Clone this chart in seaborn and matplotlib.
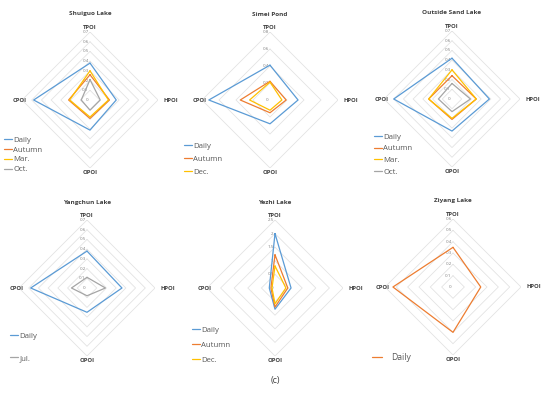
"""
Radar charts of the four pollution indices for six lakes.
"""

import numpy as np
import pandas as pd
import matplotlib
matplotlib.use('Agg')
import matplotlib.pyplot as plt
import seaborn as sns

sns.set_theme(style='white')
plt.rcParams['font.family'] = ['Open Sans', 'DejaVu Sans']

indices = ['TPOI', 'HPOI', 'OPOI', 'CPOI']

shuiguo = {'Daily': [0.38, 0.27, 0.31, 0.58],
           'Autumn': [0.26, 0.20, 0.19, 0.22],
           'Mar.': [0.30, 0.19, 0.175, 0.21],
           'Oct.': [0.21, 0.105, 0.105, 0.09]}
simei = {'Daily': [0.41, 0.33, 0.28, 0.72],
         'Autumn': [0.22, 0.19, 0.15, 0.35],
         'Dec.': [0.21, 0.14, 0.12, 0.24]}
outside_sand = {'Daily': [0.42, 0.385, 0.33, 0.60],
                'Autumn': [0.24, 0.25, 0.21, 0.24],
                'Mar.': [0.30, 0.25, 0.20, 0.24],
                'Oct.': [0.16, 0.19, 0.13, 0.14]}
yangchun = {'Daily': [0.38, 0.36, 0.25, 0.58],
            'Jul.': [0.11, 0.19, 0.08, 0.16]}
yezhi = {'Daily': [2.0, 0.59, 0.78, 0.21],
         'Autumn': [1.22, 0.47, 0.70, 0.15],
         'Dec.': [0.81, 0.40, 0.58, 0.11]}
ziyang = {'Daily': [0.35, 0.245, 0.40, 0.53]}

titles = ['Shuiguo Lake', 'Simei Pond', 'Outside Sand Lake',
          'Yangchun Lake', 'Yezhi Lake', 'Ziyang Lake']
datasets = [shuiguo, simei, outside_sand, yangchun, yezhi, ziyang]
ring_ticks = [np.arange(0, 0.71, 0.1), np.arange(0, 0.81, 0.2),
              np.arange(0, 0.71, 0.1), np.arange(0, 0.71, 0.1),
              np.arange(0, 2.51, 0.5), np.arange(0, 0.61, 0.1)]

colors = {'Daily': '#5B9BD5', 'Autumn': '#ED7D31', 'Mar.': '#FFC000',
          'Dec.': '#FFC000', 'Oct.': '#A5A5A5', 'Jul.': '#A5A5A5'}

# panel centres in pixels (x, y from top), radius in pixels
centres = [(90, 100), (270, 100), (452, 99), (87, 288), (275, 288), (453, 287)]
radius = 68
# first legend row centre (x, y) and row pitch in pixels
legend_pos = [(4, 140, 10.3), (184, 146, 13.5), (374, 137, 12),
              (10, 336, 23), (192, 330, 15.5), (372, 357, 10)]

W, H = 550, 393
fig = plt.figure(figsize=(W / 100, H / 100), dpi=100)

angles = np.deg2rad([0, 90, 180, 270])
closed = np.append(angles, 2 * np.pi)

for i, (title, data) in enumerate(zip(titles, datasets)):
    cx, cy = centres[i]
    ax = fig.add_axes([(cx - radius) / W, 1 - (cy + radius) / H,
                       2 * radius / W, 2 * radius / H], projection='polar')
    ax.set_theta_zero_location('N')
    ax.set_theta_direction(-1)
    ticks = ring_ticks[i]
    rmax = ticks[-1]
    ax.set_ylim(0, rmax)
    ax.grid(False)
    ax.spines['polar'].set_visible(False)
    ax.set_xticks([])
    ax.set_yticks([])
    ax.patch.set_alpha(0)

    # diamond rings
    for r in ticks[1:]:
        ax.plot(closed, [r] * 5, color='#E3E3E3', lw=0.6, zorder=1)
    for r in ticks:
        ax.annotate(f'{r:g}', (0, r), xytext=(-1, 0), textcoords='offset points',
                    ha='right', va='center', fontsize=3.2, color='#7F7F7F')

    # series
    single = len(data) == 1
    for name, vals in data.items():
        df = pd.DataFrame({'angle': closed, 'value': vals + vals[:1]})
        c = '#ED7D31' if single else colors[name]
        sns.lineplot(data=df, x='angle', y='value', ax=ax, sort=False,
                     estimator=None, color=c, lw=0.9, label=name, zorder=3)
    ax.set_xlabel('')
    ax.set_ylabel('')

    # index labels
    lab_kw = dict(fontsize=4.2, fontweight='bold', color='#404040',
                  textcoords='offset points', annotation_clip=False)
    ax.annotate(indices[0], (0, rmax), xytext=(0, 1.5), ha='center', va='bottom', **lab_kw)
    ax.annotate(indices[1], (np.pi / 2, rmax), xytext=(4, 0), ha='left', va='center', **lab_kw)
    ax.annotate(indices[2], (np.pi, rmax), xytext=(0, -1.5), ha='center', va='top', **lab_kw)
    ax.annotate(indices[3], (1.5 * np.pi, rmax), xytext=(3, 0), ha='right', va='center', **lab_kw)

    fig.text(cx / W, 1 - (cy - radius - 18) / H, title, ha='center', va='center',
             fontsize=4.6, fontweight='bold', color='#404040')

    lx, ly, sp = legend_pos[i]
    fs = 6.2 if single else 5.6
    fpx = fs * 100 / 72
    leg = ax.legend(loc='upper left', bbox_to_anchor=(lx / W, 1 - (ly - fpx / 2) / H),
                    bbox_transform=fig.transFigure, frameon=False, fontsize=fs,
                    handlelength=1.0 if not single else 1.2,
                    handletextpad=0.2 if not single else 1.0,
                    labelspacing=max(sp - fpx, 0) / fpx, borderpad=0, borderaxespad=0)
    for t in leg.get_texts():
        t.set_color('#595959')

fig.text(0.5, 1 - 380 / H, '(c)', ha='center', va='center', fontsize=6.5, color='#404040')

fig.savefig('out.png', dpi=100)
